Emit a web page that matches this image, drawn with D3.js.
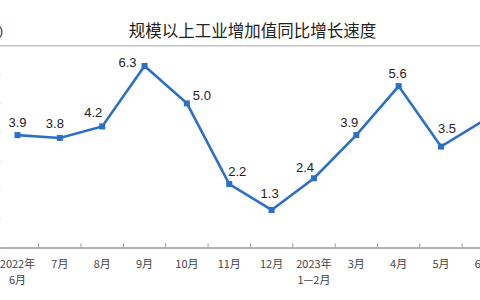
<!DOCTYPE html>
<html>
<head>
<meta charset="utf-8">
<script src="https://cdn.jsdelivr.net/npm/d3@7"></script>
<style>
html,body{margin:0;padding:0;background:#fff;overflow:hidden;}
svg{display:block;}
</style>
</head>
<body>
<svg id="chart" width="480" height="300"></svg>
<script>
const title = "规模以上工业增加值同比增长速度";
const unitLabel = "(%)";
const categories = ["2022年\n6月","7月","8月","9月","10月","11月","12月","2023年\n1—2月","3月","4月","5月","6月"];
const values = [3.9,3.8,4.2,6.3,5.0,2.2,1.3,2.4,3.9,5.6,3.5,4.4];
const valueLabels = ["3.9","3.8","4.2","6.3","5.0","2.2","1.3","2.4","3.9","5.6","3.5","4.4"];
const yTicks = [0,1,2,3,4,5,6,7];
// label offsets (style): [dx, dy] relative to the point
const labelOffsets = [[0,-8],[-5,-10],[-9,-9],[-17,1],[15,-3],[8,-8],[-2,-12],[-9,-6],[-7,-8],[-1,-8],[6,-14],[6,-10]];

const svg = d3.select("#chart");
const step = 42.35;
const x = d3.scaleBand().domain(categories).range([17.5 - step/2, 17.5 - step/2 + step*categories.length]).padding(0);
const y = d3.scaleLinear().domain([0,7]).range([247.4, 45.8]);
const cx = d => x(d) + x.bandwidth()/2;

// title
svg.append("text").attr("x",252.5).attr("y",37).attr("text-anchor","middle")
  .attr("font-family","'Noto Sans CJK SC', sans-serif").attr("font-size",16.5).attr("fill","#222")
  .text(title);
svg.append("text").attr("x",3).attr("y",35).attr("text-anchor","end")
  .attr("font-family","'Liberation Sans', Arial, sans-serif").attr("font-size",13).attr("fill","#333")
  .text(unitLabel);

// top line at max
svg.append("line").attr("x1",0).attr("x2",480).attr("y1",y(7)).attr("y2",y(7))
  .attr("stroke","#c4c4c4").attr("stroke-width",1.5);

// y axis ticks (mostly cropped)
const yAxis = d3.axisLeft(y).tickValues(yTicks).tickSize(4).tickFormat("");
const gy = svg.append("g").attr("transform","translate(1,0)").call(yAxis);
gy.select(".domain").remove();
gy.selectAll(".tick line").attr("stroke","#d8d8d8");

// x axis
const gx = svg.append("g").attr("transform",`translate(0,${y(0)})`)
  .call(d3.axisBottom(x).tickSize(0).tickFormat(""));
gx.select(".domain").attr("stroke","#9a9a9a").attr("stroke-width",1.5);
gx.selectAll(".tick").remove();
// boundary ticks
const bounds = categories.map(c => x(c)).concat([x(categories[categories.length-1]) + x.bandwidth()]);
gx.selectAll(".btick").data(bounds).join("line").attr("class","btick")
  .attr("x1",d=>d).attr("x2",d=>d).attr("y1",0).attr("y2",-4)
  .attr("stroke","#9a9a9a").attr("stroke-width",1);

// x labels
const xl = svg.append("g").selectAll("text").data(categories).join("text")
  .attr("x",d=>cx(d)).attr("y",268).attr("text-anchor","middle")
  .attr("font-family","'Noto Sans CJK SC', sans-serif").attr("font-size",11).attr("fill","#444");
xl.each(function(d){
  const lines = d.split("\n");
  const t = d3.select(this);
  lines.forEach((l,i)=>{
    t.append("tspan").attr("x",cx(d)).attr("dy", i===0?0:16).text(l);
  });
});

// line
const pts = categories.map((c,i)=>({c, v: values[i], lab: valueLabels[i], off: labelOffsets[i]}));
svg.append("path").datum(pts)
  .attr("d", d3.line().x(d=>cx(d.c)).y(d=>y(d.v)))
  .attr("fill","none").attr("stroke","#2b70c6").attr("stroke-width",2.6).attr("stroke-linejoin","miter");

svg.append("g").selectAll("rect").data(pts).join("rect")
  .attr("x",d=>cx(d.c)-3).attr("y",d=>y(d.v)-3).attr("width",6).attr("height",6)
  .attr("fill","#2b70c6");

svg.append("g").selectAll("text").data(pts).join("text")
  .attr("x",d=>cx(d.c)+d.off[0]).attr("y",d=>y(d.v)+d.off[1]).attr("text-anchor","middle")
  .attr("font-family","'Liberation Sans', Arial, sans-serif").attr("font-size",13).attr("fill","#222")
  .text(d=>d.lab);
</script>
</body>
</html>
